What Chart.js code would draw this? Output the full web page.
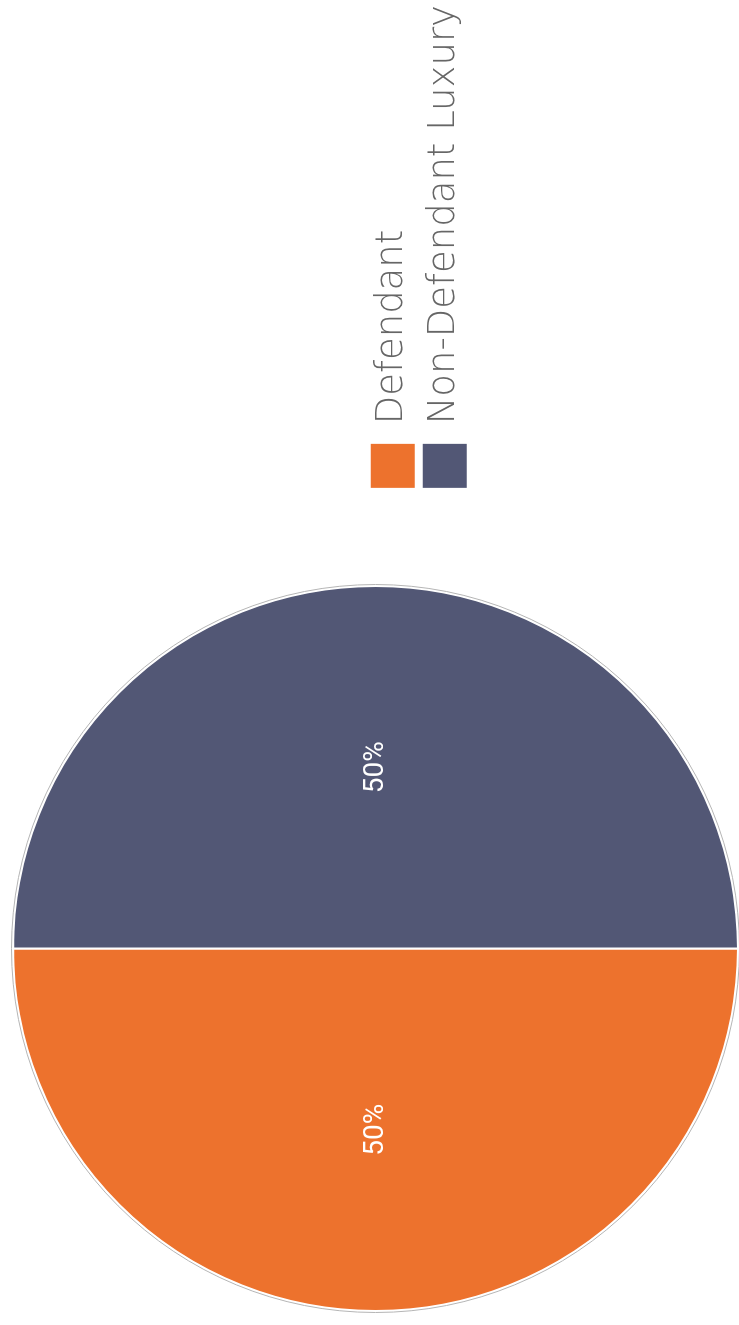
<!DOCTYPE html>
<html>
<head>
<meta charset="utf-8">
<title>Defendant share</title>
<script src="https://cdn.jsdelivr.net/npm/chart.js@4.4.1/dist/chart.umd.min.js"></script>
<style>
  html, body { margin: 0; padding: 0; background: #fff; overflow: hidden; }
  /* chart is laid out landscape and turned on its side */
  #wrap {
    position: absolute; left: 0; top: 1325px;
    width: 1325px; height: 739px;
    transform-origin: 0 0; transform: rotate(-90deg);
  }
</style>
</head>
<body>
<div id="wrap"><canvas id="pie" width="1325" height="739"></canvas></div>
<script>
// --- data ---
const labels = ['Defendant', 'Non-Defendant Luxury'];
const shares = [50, 50];
const colors = ['#ED722D', '#525775'];

// keep the pie area square so it sits on the left, legend on the right
const squareArea = {
  id: 'squareArea',
  afterLayout(chart){
    const a = chart.chartArea;
    const side = Math.min(a.right - a.left, a.bottom - a.top);
    a.right = a.left + side;
    a.width = side;
  }
};

// thin grey rim + percent labels in each slice
const pieExtras = {
  id: 'pieExtras',
  afterDatasetsDraw(chart){
    const {ctx} = chart;
    const arcs = chart.getDatasetMeta(0).data;
    if(!arcs.length) return;
    const a0 = arcs[0];
    ctx.save();
    ctx.beginPath();
    ctx.arc(a0.x, a0.y, a0.outerRadius + 1.5, 0, Math.PI * 2);
    ctx.strokeStyle = '#b5b5b5';
    ctx.lineWidth = 1;
    ctx.stroke();

    ctx.fillStyle = '#fff';
    ctx.font = '400 28px Roboto, "Liberation Sans", sans-serif';
    ctx.textAlign = 'center';
    ctx.textBaseline = 'middle';
    arcs.forEach((arc, i) => {
      const p = arc.getCenterPoint();
      ctx.fillText(shares[i] + '%', p.x, p.y);
    });
    ctx.restore();
  }
};

new Chart(document.getElementById('pie'), {
  type: 'pie',
  data: {
    labels: labels,
    datasets: [{
      data: shares,
      backgroundColor: colors,
      borderColor: '#fff',
      borderWidth: 2
    }]
  },
  options: {
    responsive: false,
    animation: false,
    rotation: 180,
    layout: { padding: { top: 12, left: 13, right: -5, bottom: 0 } },
    plugins: {
      tooltip: { enabled: false },
      legend: {
        position: 'right',
        // empty title only pushes the two rows a bit below centre
        title: { display: true, text: '', padding: 0, font: { size: 72, lineHeight: 1.2 } },
        labels: {
          boxWidth: 46,
          boxHeight: 46,
          padding: 6,
          color: '#666',
          font: { family: '"DejaVu Sans"', size: 37, weight: '200' }
        }
      }
    }
  },
  plugins: [squareArea, pieExtras]
});
</script>
</body>
</html>
